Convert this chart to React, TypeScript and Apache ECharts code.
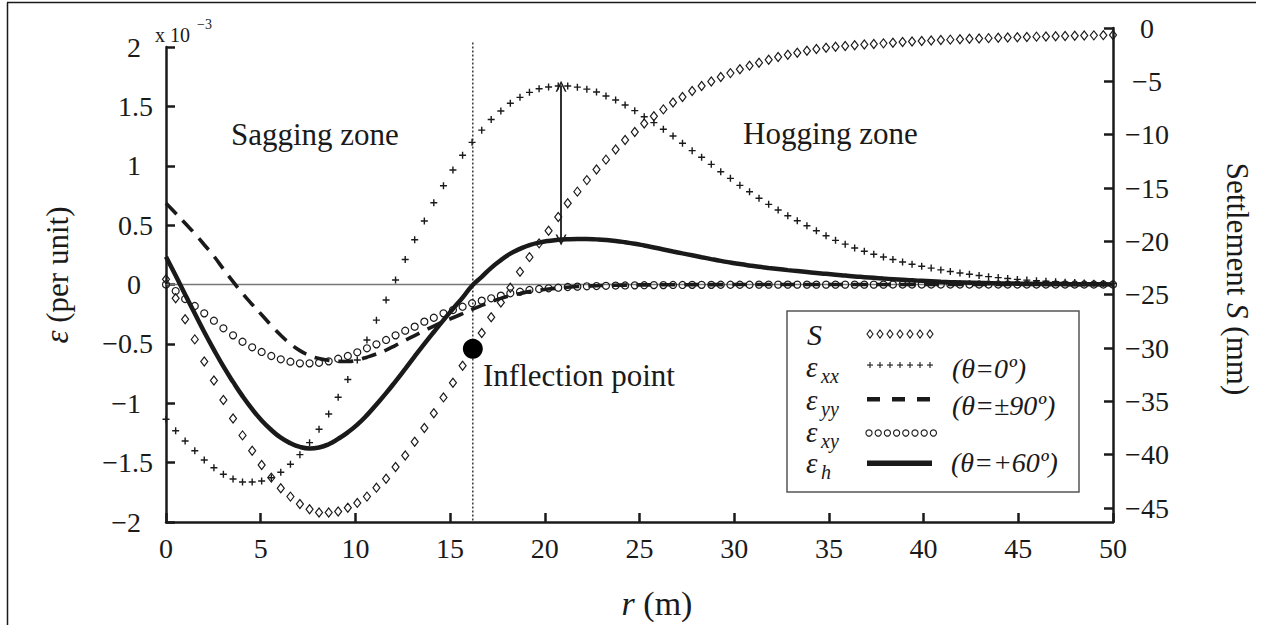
import React, { useEffect, useRef } from "react";
import * as echarts from "echarts";

// r (m) sample positions of the plotted points
const R = [
  0, 0.51, 1.01, 1.52, 2.02, 2.53, 3.03, 3.54, 4.04, 4.55,
  5.05, 5.56, 6.06, 6.57, 7.07, 7.58, 8.08, 8.59, 9.09, 9.6,
  10.1, 10.61, 11.11, 11.62, 12.12, 12.63, 13.13, 13.64, 14.14, 14.65,
  15.15, 15.66, 16.16, 16.67, 17.17, 17.68, 18.18, 18.69, 19.19, 19.7,
  20.2, 20.71, 21.21, 21.72, 22.22, 22.73, 23.23, 23.74, 24.24, 24.75,
  25.25, 25.76, 26.26, 26.77, 27.27, 27.78, 28.28, 28.79, 29.29, 29.8,
  30.3, 30.81, 31.31, 31.82, 32.32, 32.83, 33.33, 33.84, 34.34, 34.85,
  35.35, 35.86, 36.36, 36.87, 37.37, 37.88, 38.38, 38.89, 39.39, 39.9,
  40.4, 40.91, 41.41, 41.92, 42.42, 42.93, 43.43, 43.94, 44.44, 44.95,
  45.45, 45.96, 46.46, 46.97, 47.47, 47.98, 48.48, 48.99, 49.49, 50,
];

// Settlement S (mm), right axis
const S_MM = [
  -23.55, -25.33, -27.31, -29.19, -31.27, -33.05, -34.88, -36.61, -38.19, -39.63,
  -40.96, -42.15, -43.14, -43.93, -44.62, -45.12, -45.42, -45.42, -45.32, -44.97,
  -44.52, -43.93, -43.09, -42.25, -41.16, -40.07, -38.79, -37.5, -36.12, -34.63,
  -33.25, -31.67, -30.08, -28.6, -27.11, -25.73, -24.35, -22.86, -21.48, -20.19,
  -19.0, -17.72, -16.43, -15.34, -14.26, -13.27, -12.34, -11.39, -10.5, -9.75,
  -8.96, -8.28, -7.63, -6.99, -6.47, -5.91, -5.44, -5.01, -4.6, -4.23,
  -3.87, -3.53, -3.26, -2.97, -2.72, -2.5, -2.32, -2.13, -1.97, -1.85,
  -1.76, -1.69, -1.62, -1.55, -1.5, -1.44, -1.38, -1.32, -1.27, -1.22,
  -1.17, -1.13, -1.09, -1.05, -1.01, -0.98, -0.95, -0.92, -0.89, -0.86,
  -0.84, -0.81, -0.79, -0.77, -0.75, -0.73, -0.71, -0.69, -0.67, -0.65,
];

// strains (x 10^-3), left axis
const EXX = [
  -1.135, -1.231, -1.318, -1.4, -1.478, -1.543, -1.598, -1.638, -1.663, -1.663,
  -1.655, -1.627, -1.581, -1.514, -1.433, -1.332, -1.219, -1.09, -0.95, -0.8,
  -0.636, -0.467, -0.3, -0.13, 0.038, 0.21, 0.377, 0.535, 0.689, 0.832,
  0.964, 1.088, 1.197, 1.3, 1.39, 1.461, 1.526, 1.576, 1.618, 1.649,
  1.663, 1.672, 1.672, 1.662, 1.645, 1.621, 1.587, 1.554, 1.512, 1.464,
  1.413, 1.363, 1.307, 1.251, 1.189, 1.127, 1.071, 1.012, 0.95, 0.894,
  0.835, 0.781, 0.726, 0.675, 0.627, 0.579, 0.537, 0.495, 0.453, 0.41,
  0.372, 0.34, 0.308, 0.28, 0.255, 0.232, 0.21, 0.19, 0.171, 0.154,
  0.138, 0.123, 0.109, 0.097, 0.086, 0.076, 0.066, 0.058, 0.05, 0.043,
  0.037, 0.032, 0.027, 0.023, 0.019, 0.016, 0.013, 0.011, 0.009, 0.007,
];

const EYY = [
  0.684, 0.6, 0.515, 0.428, 0.335, 0.238, 0.13, 0.025, -0.075, -0.168,
  -0.255, -0.345, -0.428, -0.5, -0.557, -0.598, -0.624, -0.639, -0.647, -0.648,
  -0.635, -0.612, -0.585, -0.552, -0.512, -0.47, -0.43, -0.39, -0.35, -0.313,
  -0.28, -0.245, -0.21, -0.176, -0.145, -0.117, -0.094, -0.076, -0.06, -0.048,
  -0.038, -0.03, -0.023, -0.017, -0.013, -0.01, -0.008, -0.006, -0.005, -0.004,
  -0.003, -0.003, -0.002, -0.002, -0.002, -0.001, -0.001, -0.001, -0.001, -0.001,
  0, 0, 0, 0, 0, 0, 0, 0, 0, 0,
  0, 0, 0, 0, 0, 0, 0, 0, 0, 0,
  0, 0, 0, 0, 0, 0, 0, 0, 0, 0,
  0, 0, 0, 0, 0, 0, 0, 0, 0, 0,
];

const EXY = [
  0, -0.055, -0.122, -0.181, -0.243, -0.305, -0.369, -0.428, -0.482, -0.529,
  -0.568, -0.602, -0.63, -0.65, -0.664, -0.664, -0.659, -0.647, -0.625, -0.602,
  -0.571, -0.537, -0.504, -0.467, -0.428, -0.389, -0.355, -0.313, -0.28, -0.243,
  -0.215, -0.187, -0.158, -0.136, -0.116, -0.094, -0.074, -0.061, -0.046, -0.038,
  -0.032, -0.027, -0.021, -0.018, -0.015, -0.013, -0.011, -0.009, -0.008, -0.007,
  -0.006, -0.005, -0.005, -0.004, -0.004, -0.003, -0.003, -0.003, -0.002, -0.002,
  -0.002, -0.002, -0.001, -0.001, -0.001, -0.001, -0.001, -0.001, -0.001, -0.001,
  -0.001, -0.001, -0.001, -0.001, -0.001, -0.001, 0, 0, 0, 0,
  0, 0, 0, 0, 0, 0, 0, 0, 0, 0,
  0, 0, 0, 0, 0, 0, 0, 0, 0, 0,
];

const EH = [
  0.234, 0.075, -0.085, -0.245, -0.4, -0.55, -0.69, -0.82, -0.94, -1.05,
  -1.145, -1.225, -1.29, -1.337, -1.368, -1.38, -1.372, -1.345, -1.3, -1.245,
  -1.18, -1.1, -1.01, -0.915, -0.815, -0.71, -0.605, -0.5, -0.4, -0.3,
  -0.205, -0.11, -0.01, 0.065, 0.14, 0.205, 0.26, 0.3, 0.332, 0.353,
  0.367, 0.376, 0.381, 0.383, 0.383, 0.38, 0.375, 0.367, 0.356, 0.343,
  0.328, 0.312, 0.295, 0.278, 0.262, 0.246, 0.23, 0.214, 0.199, 0.185,
  0.172, 0.16, 0.149, 0.139, 0.13, 0.121, 0.113, 0.105, 0.097, 0.09,
  0.082, 0.075, 0.068, 0.062, 0.056, 0.05, 0.045, 0.04, 0.035, 0.031,
  0.027, 0.023, 0.02, 0.017, 0.015, 0.013, 0.011, 0.009, 0.008, 0.007,
  0.006, 0.005, 0.004, 0.004, 0.003, 0.003, 0.002, 0.002, 0.002, 0.001,
];

// axes
const X_MIN = 0;
const X_MAX = 50;
const X_STEP = 5;
const LEFT_MIN = -2;
const LEFT_MAX = 2;
const LEFT_STEP = 0.5;
const RIGHT_MIN = -46.31;
const RIGHT_MAX = 0;
const RIGHT_TICKS = [0, -5, -10, -15, -20, -25, -30, -35, -40, -45];

// annotations
const ZERO_LINE = [[0, 0], [50, 0]];
const INFLECTION = [16.2, -30.08]; // r, S
const INFLECTION_LINE = [[16.2, -1.35], [16.2, -46.31]];
const ARROW = [[20.86, 1.67], [20.86, 0.375]];

const FONT = "Liberation Serif";
const INK = "#1a1a1a";
const PLUS = "path://M4,0H6V4H10V6H6V10H4V6H0V4H4Z";
const CHEVRON = "path://M0,10L5,0L10,10L8.5,10L5,3L1.5,10Z";

const pairs = (vals: number[]) => vals.map((v, i) => [R[i], v]);
const minus = (s: string) => s.replace("-", "\u2212");

function T(text: string, x: number, y: number, size: number, o: any = {}) {
  const align = o.align || "left";
  const style: any = {
    text,
    fontFamily: FONT,
    fontSize: size,
    fontStyle: o.italic ? "italic" : "normal",
    fill: INK,
    textAlign: align,
    align,
    textVerticalAlign: "middle",
    verticalAlign: "middle",
  };
  if (o.rich) style.rich = o.rich;
  return {
    type: "text",
    x,
    y,
    rotation: o.rotation || 0,
    z: 50,
    silent: true,
    style,
  };
}

function legendGraphics() {
  const g: any[] = [];
  g.push({
    type: "rect",
    z: 40,
    silent: true,
    shape: { x: 787, y: 311, width: 292, height: 181 },
    style: { fill: "#fff", stroke: "#555", lineWidth: 1.5 },
  });
  // labels
  g.push(T("S", 807, 334, 30, { italic: true }));
  const eps = [
    ["xx", 367],
    ["yy", 400],
    ["xy", 432],
    ["h", 463],
  ];
  eps.forEach(([sub, y]) => {
    g.push(T("\u03b5", 806, y as number, 29, { italic: true }));
    g.push(T(sub as string, 821, (y as number) + 9, 20, { italic: true }));
  });
  g.push(T("(\u03b8=0\u00ba)", 952, 368, 28, { italic: true }));
  g.push(T("(\u03b8=\u00b190\u00ba)", 952, 405, 28, { italic: true }));
  g.push(T("(\u03b8=+60\u00ba)", 951, 462, 28, { italic: true }));
  // samples
  for (let i = 0; i < 7; i++) {
    const cx = 870 + i * 10;
    g.push({
      type: "polygon",
      z: 45,
      silent: true,
      shape: { points: [[cx, 330], [cx + 3, 334], [cx, 338], [cx - 3, 334]] },
      style: { fill: "none", stroke: INK, lineWidth: 1.1 },
    });
    g.push({
      type: "rect",
      z: 45,
      silent: true,
      shape: { x: cx - 3, y: 364.5, width: 6, height: 1.1 },
      style: { fill: INK },
    });
    g.push({
      type: "rect",
      z: 45,
      silent: true,
      shape: { x: cx - 0.55, y: 362, width: 1.1, height: 6 },
      style: { fill: INK },
    });
  }
  [867, 892, 917].forEach((x0) =>
    g.push({
      type: "rect",
      z: 45,
      silent: true,
      shape: { x: x0, y: 397, width: 13, height: 4.5 },
      style: { fill: INK },
    })
  );
  for (let i = 0; i < 8; i++) {
    g.push({
      type: "circle",
      z: 45,
      silent: true,
      shape: { cx: 869 + i * 9.2, cy: 433, r: 3.1 },
      style: { fill: "none", stroke: INK, lineWidth: 1.1 },
    });
  }
  g.push({
    type: "rect",
    z: 45,
    silent: true,
    shape: { x: 867, y: 460.5, width: 65, height: 5.5 },
    style: { fill: INK },
  });
  return g;
}

export default function App() {
  const ref = useRef<HTMLDivElement>(null);
  useEffect(() => {
    const el = ref.current as HTMLDivElement;
    const chart = echarts.init(el, null, { renderer: "svg" });
    const axisLine = { show: true, onZero: false, lineStyle: { color: INK, width: 2.5 } };
    const tick = { show: true, inside: true, length: 9, lineStyle: { color: INK, width: 2.5 } };
    const lbl = { color: INK, fontFamily: FONT, fontSize: 28 };

    const graphic: any[] = [
      // outer frame
      { type: "line", silent: true, shape: { x1: 7, y1: 2.5, x2: 1256, y2: 2.5 }, style: { stroke: INK, lineWidth: 1.5 } },
      { type: "line", silent: true, shape: { x1: 7.5, y1: 2.5, x2: 7.5, y2: 625 }, style: { stroke: INK, lineWidth: 1.5 } },
      T("x 10", 155, 35, 20),
      T("\u22123", 197, 24, 14),
      T("Sagging zone", 231, 134, 31),
      T("Hogging zone", 743, 133, 31),
      T("Inflection point", 483, 375, 31),
      T("{i|r} (m)", 657, 603, 34, {
        align: "center",
        rich: { i: { fontStyle: "italic", fontFamily: FONT, fontSize: 34, fill: INK } },
      }),
      T("{e|\u03b5} (per unit)", 57, 275, 31, {
        align: "center",
        rotation: Math.PI / 2,
        rich: { e: { fontStyle: "italic", fontFamily: FONT, fontSize: 33, fill: INK } },
      }),
      T("Settlement {i|S} (mm)", 1237, 279, 31, {
        align: "center",
        rotation: -Math.PI / 2,
        rich: { i: { fontStyle: "italic", fontFamily: FONT, fontSize: 31, fill: INK } },
      }),
      ...legendGraphics(),
    ];

    chart.setOption({
      animation: false,
      backgroundColor: "#fff",
      textStyle: { fontFamily: FONT },
      grid: [
        { left: 166, right: 148, top: 47, bottom: 103 },
        { left: 166, right: 148, top: 28, bottom: 103 },
      ],
      xAxis: [
        {
          gridIndex: 0,
          type: "value",
          min: X_MIN,
          max: X_MAX,
          interval: X_STEP,
          axisLine,
          axisTick: tick,
          splitLine: { show: false },
          axisLabel: { ...lbl, margin: 12 },
        },
        { gridIndex: 1, type: "value", min: X_MIN, max: X_MAX, show: false, splitLine: { show: false } },
      ],
      yAxis: [
        {
          gridIndex: 0,
          type: "value",
          position: "left",
          min: LEFT_MIN,
          max: LEFT_MAX,
          interval: LEFT_STEP,
          axisLine,
          axisTick: tick,
          splitLine: { show: false },
          axisLabel: {
            ...lbl,
            margin: 13,
            align: "right",
            formatter: (v: number) => {
              const s = minus(String(v));
              return Number.isInteger(v) ? `{i|${s}}` : `{d|${s}}`;
            },
            rich: {
              i: { ...lbl, padding: [0, 12, 0, 0] },
              d: { ...lbl },
            },
          },
        },
        {
          gridIndex: 1,
          type: "value",
          position: "right",
          min: RIGHT_MIN,
          max: RIGHT_MAX,
          axisLine,
          axisTick: { ...tick, customValues: RIGHT_TICKS },
          splitLine: { show: false },
          axisLabel: {
            ...lbl,
            customValues: RIGHT_TICKS,
            margin: 34,
            align: "center",
            formatter: (v: number) => minus(String(v)),
          },
        },
      ],
      series: [
        {
          name: "zero",
          type: "line",
          xAxisIndex: 0,
          yAxisIndex: 0,
          data: ZERO_LINE,
          showSymbol: false,
          silent: true,
          z: 1,
          lineStyle: { color: "#777", width: 1.3 },
          markLine: {
            silent: true,
            symbol: [CHEVRON, CHEVRON],
            symbolSize: 11,
            label: { show: false },
            lineStyle: { color: INK, width: 1.8, type: "solid" },
            data: [[{ coord: ARROW[0] }, { coord: ARROW[1] }]],
          },
        },
        {
          name: "inflection line",
          type: "line",
          xAxisIndex: 1,
          yAxisIndex: 1,
          data: INFLECTION_LINE,
          showSymbol: false,
          silent: true,
          z: 1,
          lineStyle: { color: INK, width: 1.3, type: [2, 2] },
        },
        {
          name: "S",
          type: "scatter",
          xAxisIndex: 1,
          yAxisIndex: 1,
          data: pairs(S_MM),
          symbol: "diamond",
          symbolSize: [7, 9],
          silent: true,
          z: 2,
          itemStyle: { color: "rgba(0,0,0,0)", borderColor: INK, borderWidth: 1.2, opacity: 1 },
        },
        {
          name: "exx",
          type: "scatter",
          xAxisIndex: 0,
          yAxisIndex: 0,
          data: pairs(EXX),
          symbol: PLUS,
          symbolSize: 7,
          silent: true,
          z: 2,
          itemStyle: { color: INK, opacity: 1 },
        },
        {
          name: "exy",
          type: "scatter",
          xAxisIndex: 0,
          yAxisIndex: 0,
          data: pairs(EXY),
          symbol: "circle",
          symbolSize: 7,
          silent: true,
          z: 3,
          itemStyle: { color: "rgba(0,0,0,0)", borderColor: INK, borderWidth: 1.2, opacity: 1 },
        },
        {
          name: "eyy",
          type: "line",
          xAxisIndex: 0,
          yAxisIndex: 0,
          data: pairs(EYY),
          showSymbol: false,
          smooth: true,
          silent: true,
          z: 4,
          lineStyle: { color: INK, width: 3.6, type: [15, 9] },
        },
        {
          name: "eh",
          type: "line",
          xAxisIndex: 0,
          yAxisIndex: 0,
          data: pairs(EH),
          showSymbol: false,
          smooth: true,
          silent: true,
          z: 5,
          lineStyle: { color: INK, width: 4.5 },
        },
        {
          name: "inflection point",
          type: "scatter",
          xAxisIndex: 1,
          yAxisIndex: 1,
          data: [INFLECTION],
          symbol: "circle",
          symbolSize: 20,
          silent: true,
          z: 10,
          itemStyle: { color: "#000", opacity: 1 },
        },
      ],
      graphic,
    });
    return () => chart.dispose();
  }, []);
  return (
    <div
      ref={ref}
      style={{ position: "absolute", left: 0, top: 0, width: 1261, height: 625, background: "#fff" }}
    />
  );
}
